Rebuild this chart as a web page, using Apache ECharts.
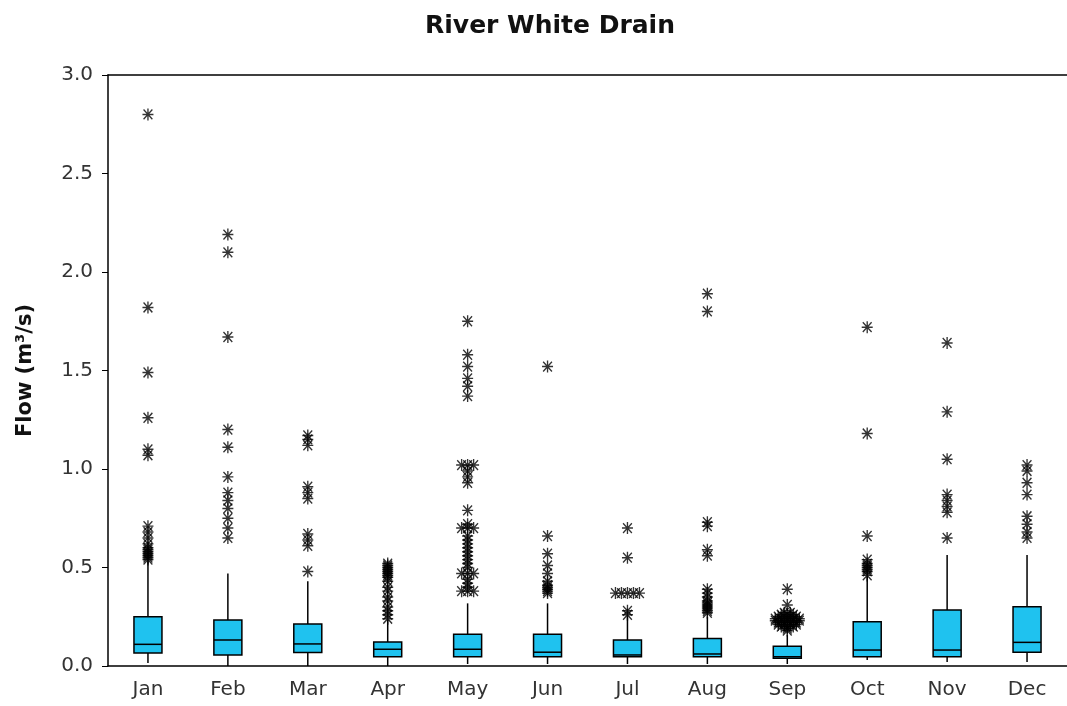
<!DOCTYPE html>
<html>
<head>
<meta charset="utf-8">
<script src="https://cdn.jsdelivr.net/npm/echarts@6/dist/echarts.min.js"></script>
<style>
  html, body { margin: 0; padding: 0; background: #fff; }
  #chart { width: 1067px; height: 706px; }
</style>
</head>
<body>
<div id="chart"></div>
<script>
// monthly flow statistics (m3/s)
var months = ["Jan", "Feb", "Mar", "Apr", "May", "Jun", "Jul", "Aug", "Sep", "Oct", "Nov", "Dec"];
var whiskerLow = [0.015, 0.0, 0.0, 0.0, 0.01, 0.01, 0.01, 0.01, 0.01, 0.03, 0.02, 0.02];
var q1 = [0.066, 0.056, 0.068, 0.047, 0.047, 0.047, 0.047, 0.047, 0.039, 0.047, 0.047, 0.07];
var median = [0.11, 0.132, 0.112, 0.085, 0.085, 0.07, 0.056, 0.061, 0.047, 0.081, 0.081, 0.12];
var q3 = [0.25, 0.233, 0.213, 0.122, 0.161, 0.161, 0.132, 0.14, 0.10, 0.225, 0.284, 0.301];
var whiskerHigh = [0.53, 0.47, 0.43, 0.233, 0.318, 0.318, 0.25, 0.25, 0.157, 0.453, 0.563, 0.563];
// outliers per month, repeated values are drawn side by side
var outliers = [
  [2.80, 1.82, 1.49, 1.26, 1.10, 1.07, 0.71, 0.68, 0.65, 0.62, 0.60, 0.59, 0.58, 0.57, 0.56, 0.55, 0.54],
  [2.19, 2.10, 1.67, 1.20, 1.11, 0.96, 0.88, 0.84, 0.80, 0.75, 0.70, 0.65],
  [1.17, 1.15, 1.12, 0.91, 0.88, 0.85, 0.67, 0.64, 0.61, 0.48],
  [0.52, 0.51, 0.50, 0.49, 0.48, 0.47, 0.46, 0.45, 0.43, 0.40, 0.38, 0.35, 0.33, 0.30, 0.28, 0.26, 0.24],
  [1.75, 1.58, 1.52, 1.46, 1.42, 1.37, 1.02, 1.02, 1.02, 0.99, 0.96, 0.93, 0.79, 0.72, 0.70, 0.70, 0.70,
   0.66, 0.64, 0.62, 0.60, 0.58, 0.56, 0.54, 0.52, 0.50, 0.47, 0.47, 0.47, 0.44, 0.42, 0.40, 0.38, 0.38, 0.38],
  [1.52, 0.66, 0.57, 0.51, 0.47, 0.43, 0.41, 0.40, 0.39, 0.38, 0.37],
  [0.70, 0.55, 0.37, 0.37, 0.37, 0.37, 0.37, 0.28, 0.26],
  [1.89, 1.80, 0.73, 0.71, 0.59, 0.56, 0.39, 0.37, 0.35, 0.33, 0.32, 0.31, 0.30, 0.29, 0.28, 0.27],
  [0.39, 0.31, 0.27, 0.27, 0.26, 0.26, 0.26, 0.25, 0.25, 0.25, 0.25, 0.24, 0.24, 0.24, 0.24, 0.24,
   0.23, 0.23, 0.23, 0.23, 0.23, 0.22, 0.22, 0.22, 0.22, 0.21, 0.21, 0.21, 0.21, 0.20, 0.20, 0.20, 0.19, 0.18],
  [1.72, 1.18, 0.66, 0.54, 0.52, 0.51, 0.50, 0.49, 0.48, 0.46],
  [1.64, 1.29, 1.05, 0.87, 0.84, 0.81, 0.78, 0.65],
  [1.02, 0.99, 0.93, 0.87, 0.76, 0.72, 0.68, 0.65]
];

var boxData = months.map(function (m, i) {
  return [i, whiskerLow[i], q1[i], median[i], q3[i], whiskerHigh[i]];
});

// spread repeated values horizontally like the original plot does
var outlierData = [];
outliers.forEach(function (list, i) {
  var counts = {};
  list.forEach(function (v) { counts[v] = (counts[v] || 0) + 1; });
  var seen = {};
  list.forEach(function (v) {
    var n = counts[v];
    var k = seen[v] = (seen[v] || 0) + 1;
    var dx = (k - 1 - (n - 1) / 2) * 6;
    outlierData.push({ value: [i, v], symbolOffset: [dx, 0] });
  });
});

var star = "path://M5,0L5,11M0,5.5L10,5.5M1,1L9,10M9,1L1,10";
var font = "DejaVu Sans";

var chart = echarts.init(document.getElementById("chart"));
chart.setOption({
  animation: false,
  title: {
    text: "River White Drain",
    left: 545,
    textAlign: "center",
    top: 9,
    textStyle: { fontFamily: font, fontSize: 25, fontWeight: "bold", color: "#111" }
  },
  grid: { left: 108, top: 75, width: 960, height: 591 },
  xAxis: [{
    type: "category",
    data: months,
    boundaryGap: true,
    axisLine: { lineStyle: { color: "#000", width: 1.5 } },
    axisTick: { alignWithLabel: true, length: 6, lineStyle: { color: "#000" } },
    axisLabel: { fontFamily: font, fontSize: 20, color: "#333", margin: 14 },
    splitLine: { show: false }
  }, {
    type: "category",
    data: months,
    position: "top",
    axisLine: { lineStyle: { color: "#000", width: 1.5 } },
    axisTick: { show: false },
    axisLabel: { show: false }
  }],
  yAxis: {
    type: "value",
    min: 0,
    max: 3,
    interval: 0.5,
    name: "Flow (m³/s)",
    nameLocation: "middle",
    nameRotate: 90,
    nameGap: 72,
    nameTextStyle: { fontFamily: font, fontSize: 21, fontWeight: "bold", color: "#111" },
    axisLine: { show: true, lineStyle: { color: "#000", width: 1.5 } },
    axisTick: { show: true, length: 6, lineStyle: { color: "#000" } },
    axisLabel: {
      fontFamily: font, fontSize: 20, color: "#333", margin: 15,
      formatter: function (v) { return v.toFixed(1); }
    },
    splitLine: { show: false }
  },
  series: [{
    type: "custom",
    data: boxData,
    renderItem: function (params, api) {
      var x = api.value(0);
      var pLow = api.coord([x, api.value(1)]);
      var pQ1 = api.coord([x, api.value(2)]);
      var pMed = api.coord([x, api.value(3)]);
      var pQ3 = api.coord([x, api.value(4)]);
      var pHigh = api.coord([x, api.value(5)]);
      var w = 28;
      var cx = pQ1[0];
      var line = { stroke: "#000", lineWidth: 1.5 };
      return {
        type: "group",
        children: [
          { type: "line", shape: { x1: cx, y1: pLow[1], x2: cx, y2: pQ1[1] }, style: line },
          { type: "line", shape: { x1: cx, y1: pQ3[1], x2: cx, y2: pHigh[1] }, style: line },
          { type: "rect", shape: { x: cx - w / 2, y: pQ3[1], width: w, height: pQ1[1] - pQ3[1] },
            style: { fill: "#1fc2ef", stroke: "#000", lineWidth: 1.5 } },
          { type: "line", shape: { x1: cx - w / 2, y1: pMed[1], x2: cx + w / 2, y2: pMed[1] }, style: line }
        ]
      };
    },
    z: 2
  }, {
    type: "scatter",
    data: outlierData,
    symbol: star,
    symbolSize: [11, 12],
    itemStyle: { color: "#000", borderColor: "#000", borderWidth: 1.4 },
    z: 3
  }]
});
</script>
</body>
</html>
